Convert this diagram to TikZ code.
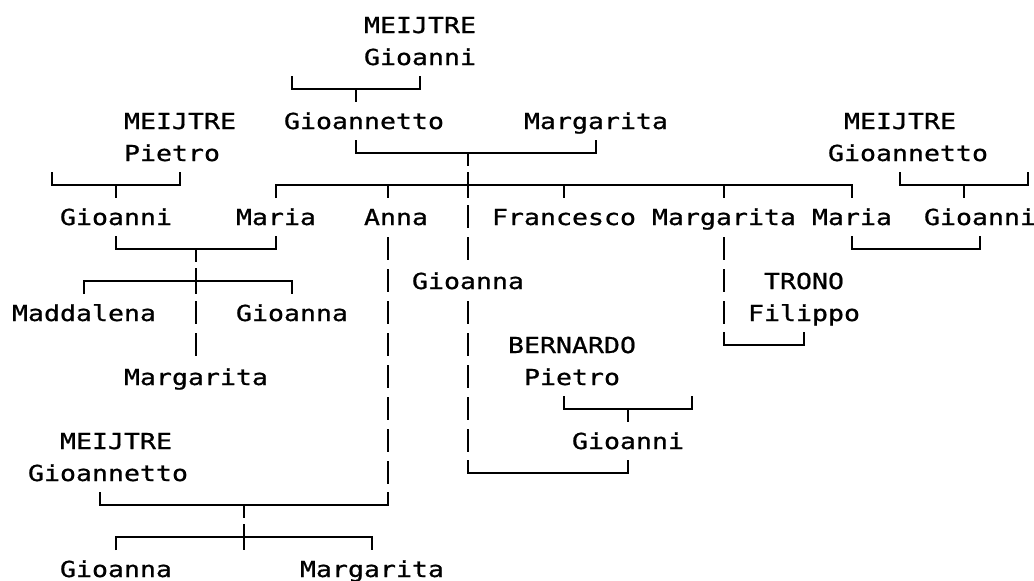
\documentclass[tikz,border=0pt]{standalone}
\usepackage{fontspec}
\newfontfamily\treefont[FakeStretch=1.208,FakeBold=0.8]{DejaVu Sans Mono}
\def\X#1{(16*(#1)+4)}
\def\L#1{(16*(#1)-4)}
\def\B#1{(33+32*(#1))}
% row, col1, col2 : corners pointing up
\newcommand\brup[3]{\draw[ln] ({\X{#2}},{\B{#1}-21}) -- ({\X{#2}},{\B{#1}-8}) -- ({\X{#3}},{\B{#1}-8}) -- ({\X{#3}},{\B{#1}-21});}
% row, col1, col2 : corners pointing down
\newcommand\brdn[3]{\draw[ln] ({\X{#2}},{\B{#1}+5}) -- ({\X{#2}},{\B{#1}-8}) -- ({\X{#3}},{\B{#1}-8}) -- ({\X{#3}},{\B{#1}+5});}
% col, row : stem below the line
\newcommand\stemdn[2]{\draw[ln] ({\X{#1}},{\B{#2}-8}) -- ({\X{#1}},{\B{#2}+5});}
% col, row : full cross
\newcommand\crossv[2]{\draw[ln] ({\X{#1}},{\B{#2}-21}) -- ({\X{#1}},{\B{#2}+5});}
% col, row : pipe glyph
\newcommand\pipev[2]{\draw[ln] ({\X{#1}},{\B{#2}-20}) -- ({\X{#1}},{\B{#2}+3});}
\tikzset{
  ln/.style={line width=1.9pt, black},
  txt/.style={anchor=base west, inner sep=0pt, outer sep=0pt, text=black,
    font=\treefont\fontsize{22}{32}\selectfont},
}
\begin{document}
\begin{tikzpicture}[x=1pt,y=-1pt]
\useasboundingbox[fill=white] (0,0) rectangle (1034,581);
% ---- texts ----
\node[txt] (t1) at ({\L{23}},{\B{0}}) {MEIJTRE};
\node[txt] (t2) at ({\L{23}},{\B{1}}) {Gioanni};
\node[txt] (t3) at ({\L{18}},{\B{3}}) {Gioannetto};
\node[txt] (t4) at ({\L{33}},{\B{3}}) {Margarita};
\node[txt] (t5) at ({\L{8}},{\B{3}}) {MEIJTRE};
\node[txt] (t6) at ({\L{53}},{\B{3}}) {MEIJTRE};
\node[txt] (t7) at ({\L{8}},{\B{4}}) {Pietro};
\node[txt] (t8) at ({\L{52}},{\B{4}}) {Gioannetto};
\node[txt] (t9) at ({\L{4}},{\B{6}}) {Gioanni};
\node[txt] (t10) at ({\L{15}},{\B{6}}) {Maria};
\node[txt] (t11) at ({\L{23}},{\B{6}}) {Anna};
\node[txt] (t12) at ({\L{31}},{\B{6}}) {Francesco};
\node[txt] (t13) at ({\L{41}},{\B{6}}) {Margarita};
\node[txt] (t14) at ({\L{51}},{\B{6}}) {Maria};
\node[txt] (t15) at ({\L{58}},{\B{6}}) {Gioanni};
\node[txt] (t16) at ({\L{26}},{\B{8}}) {Gioanna};
\node[txt] (t17) at ({\L{48}},{\B{8}}) {TRONO};
\node[txt] (t18) at ({\L{1}},{\B{9}}) {Maddalena};
\node[txt] (t19) at ({\L{15}},{\B{9}}) {Gioanna};
\node[txt] (t20) at ({\L{47}},{\B{9}}) {Filippo};
\node[txt] (t21) at ({\L{32}},{\B{10}}) {BERNARDO};
\node[txt] (t22) at ({\L{8}},{\B{11}}) {Margarita};
\node[txt] (t23) at ({\L{33}},{\B{11}}) {Pietro};
\node[txt] (t24) at ({\L{4}},{\B{13}}) {MEIJTRE};
\node[txt] (t25) at ({\L{36}},{\B{13}}) {Gioanni};
\node[txt] (t26) at ({\L{2}},{\B{14}}) {Gioannetto};
\node[txt] (t27) at ({\L{4}},{\B{17}}) {Gioanna};
\node[txt] (t28) at ({\L{19}},{\B{17}}) {Margarita};
% ---- connectors ----
% row 2
\brup{2}{18}{26} \stemdn{22}{2}
% row 4
\brup{4}{22}{37} \stemdn{29}{4}
% row 5
\brup{5}{3}{11} \stemdn{7}{5}
\brup{5}{56}{64} \stemdn{60}{5}
\brdn{5}{17}{53} \stemdn{24}{5} \stemdn{35}{5} \stemdn{45}{5} \crossv{29}{5}
% row 6
\pipev{29}{6}
% row 7
\brup{7}{7}{17} \stemdn{12}{7}
\brup{7}{53}{61}
\pipev{24}{7} \pipev{29}{7} \pipev{45}{7}
% row 8
\brdn{8}{5}{18} \crossv{12}{8}
\pipev{24}{8} \pipev{45}{8}
% rows 9-13
\pipev{12}{9} \pipev{12}{10}
\pipev{45}{9}
\foreach \r in {9,...,14} {\pipev{24}{\r}}
\foreach \r in {9,...,13} {\pipev{29}{\r}}
% row 10
\brup{10}{45}{50}
% row 12
\brup{12}{35}{43} \stemdn{39}{12}
% row 14
\brup{14}{29}{39}
% row 15
\brup{15}{6}{24} \stemdn{15}{15}
% row 16
\brdn{16}{7}{23} \crossv{15}{16}
\end{tikzpicture}
\end{document}
